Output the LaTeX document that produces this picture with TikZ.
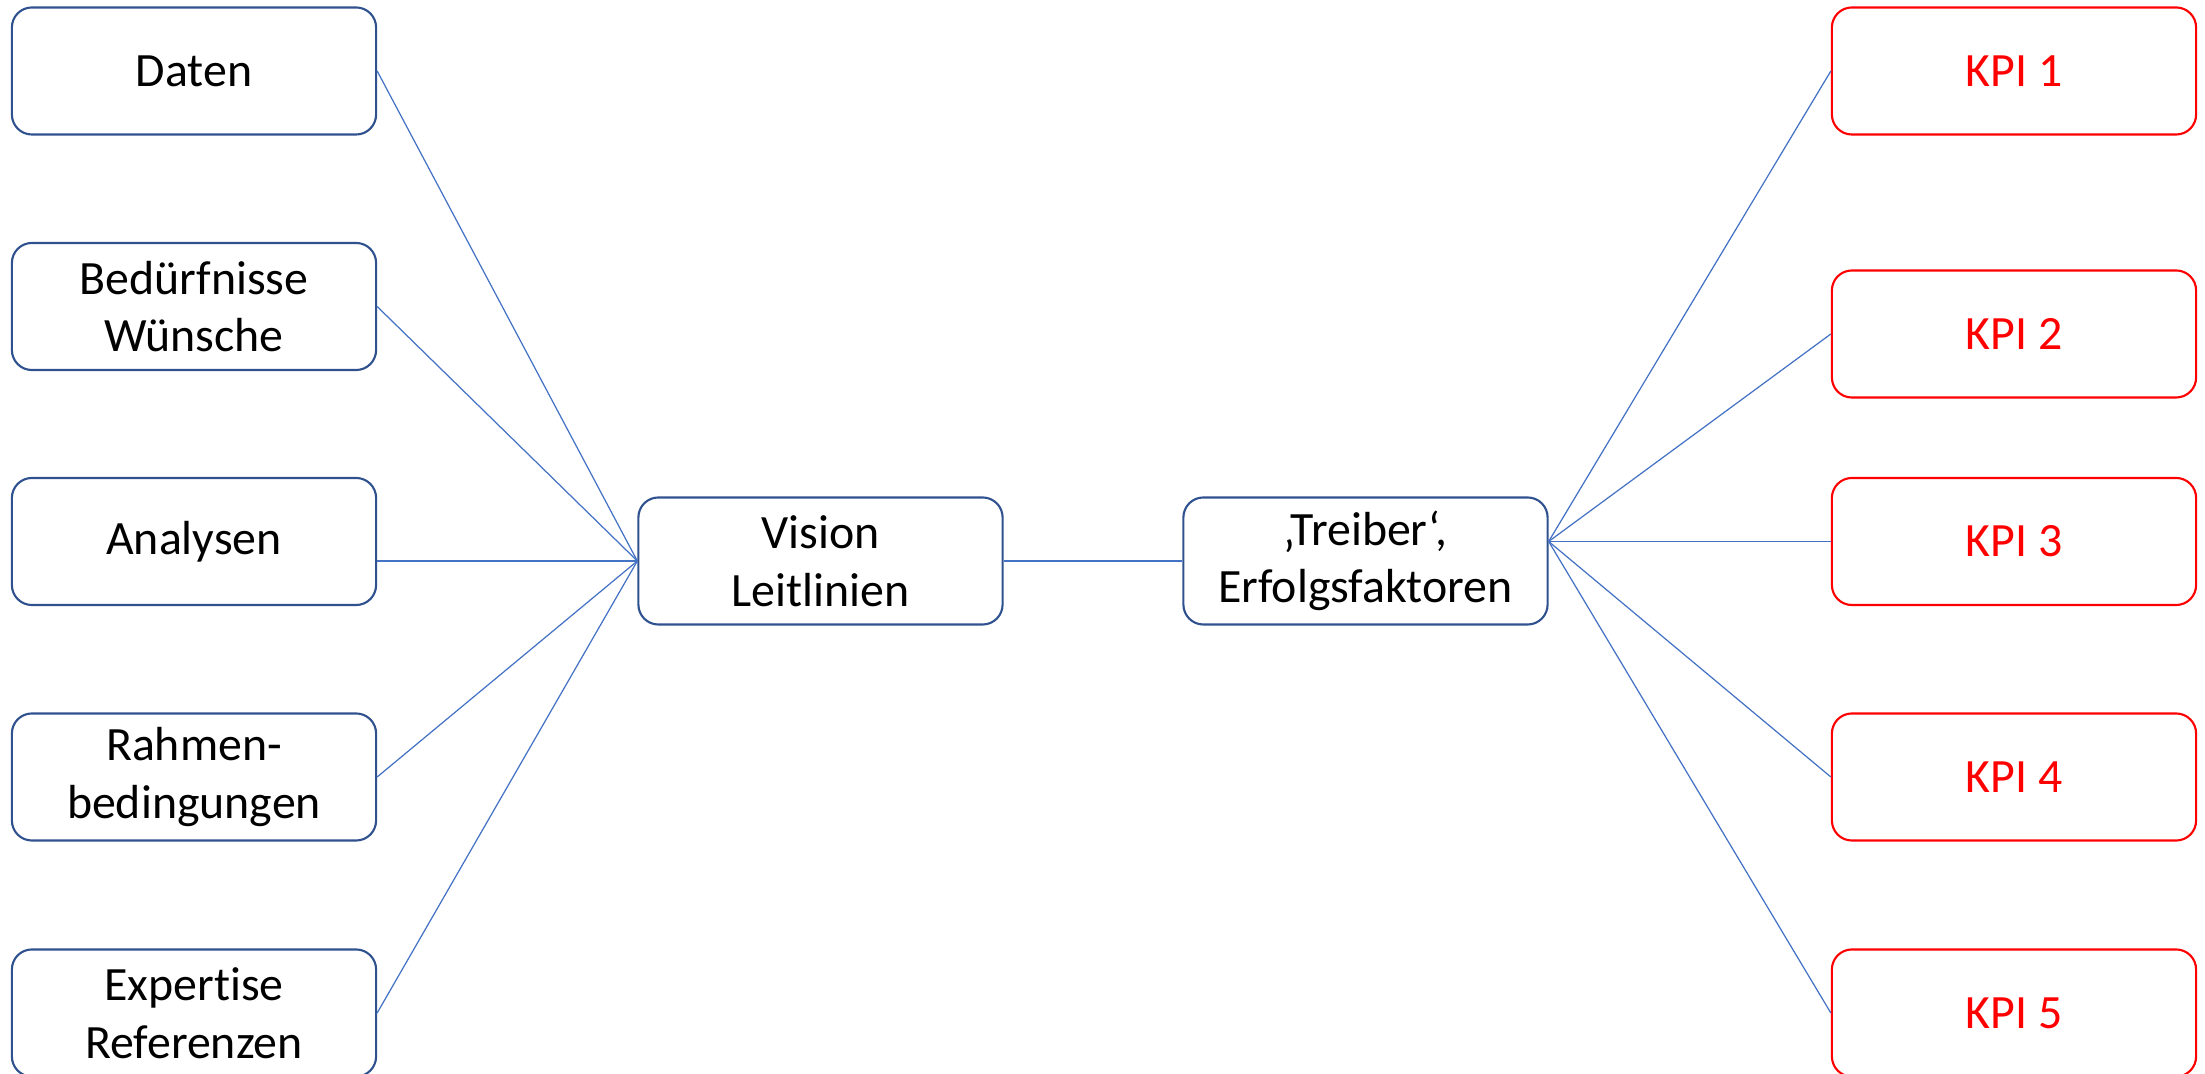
\documentclass[tikz,border=0pt]{standalone}
\usepackage{fontspec}
\setmainfont{Carlito}[Ligatures=NoCommon]
\definecolor{boxblue}{HTML}{2F528F}
\definecolor{lineblue}{HTML}{4472C4}
\definecolor{kpired}{HTML}{FF0000}
\begin{document}
\begin{tikzpicture}[x=0.01cm,y=-0.01cm,
  box/.style={draw=boxblue,line width=0.6pt,rounded corners=0.2cm,minimum width=3.64cm,minimum height=1.27cm,align=center,inner sep=0pt,font=\fontsize{13.6}{16.4}\selectfont},
  kpibox/.style={box,draw=kpired,text=kpired},
  conn/.style={draw=lineblue,line width=0.35pt}]
\useasboundingbox (0,0) rectangle (2205,1074);
\clip (0,0) rectangle (2205,1074);
\node[box] (daten) at (194,71) {Daten};
\node[box] (beduerf) at (194,306.5) {Bedürfnisse\\Wünsche};
\node[box] (analysen) at (194,541.5) {Analysen};
\node[box] (rahmen) at (194,777) {Rahmen-\\bedingungen};
\node[box] (expertise) at (194,1013) {Expertise\\Referenzen};
\node[box] (vision) at (820.5,561) {Vision\\Leitlinien};
\node[box] (treiber) at (1365.5,561) {‚Treiber‘,\\Erfolgsfaktoren};
\node[kpibox] (kpi1) at (2014,71) {KPI 1};
\node[kpibox] (kpi2) at (2014,334) {KPI 2};
\node[kpibox] (kpi3) at (2014,541.5) {KPI 3};
\node[kpibox] (kpi4) at (2014,777) {KPI 4};
\node[kpibox] (kpi5) at (2014,1013) {KPI 5};
\coordinate (tc) at (treiber.east |- kpi3.west);
\draw[conn] (daten.east) -- (vision.west);
\draw[conn] (beduerf.east) -- (vision.west);
\draw[conn] (analysen.east |- vision.west) -- (vision.west);
\draw[conn] (rahmen.east) -- (vision.west);
\draw[conn] (expertise.east) -- (vision.west);
\draw[conn] (vision.east) -- (treiber.west);
\draw[conn] (tc) -- (kpi1.west);
\draw[conn] (tc) -- (kpi2.west);
\draw[conn] (tc) -- (kpi3.west);
\draw[conn] (tc) -- (kpi4.west);
\draw[conn] (tc) -- (kpi5.west);
\end{tikzpicture}
\end{document}
